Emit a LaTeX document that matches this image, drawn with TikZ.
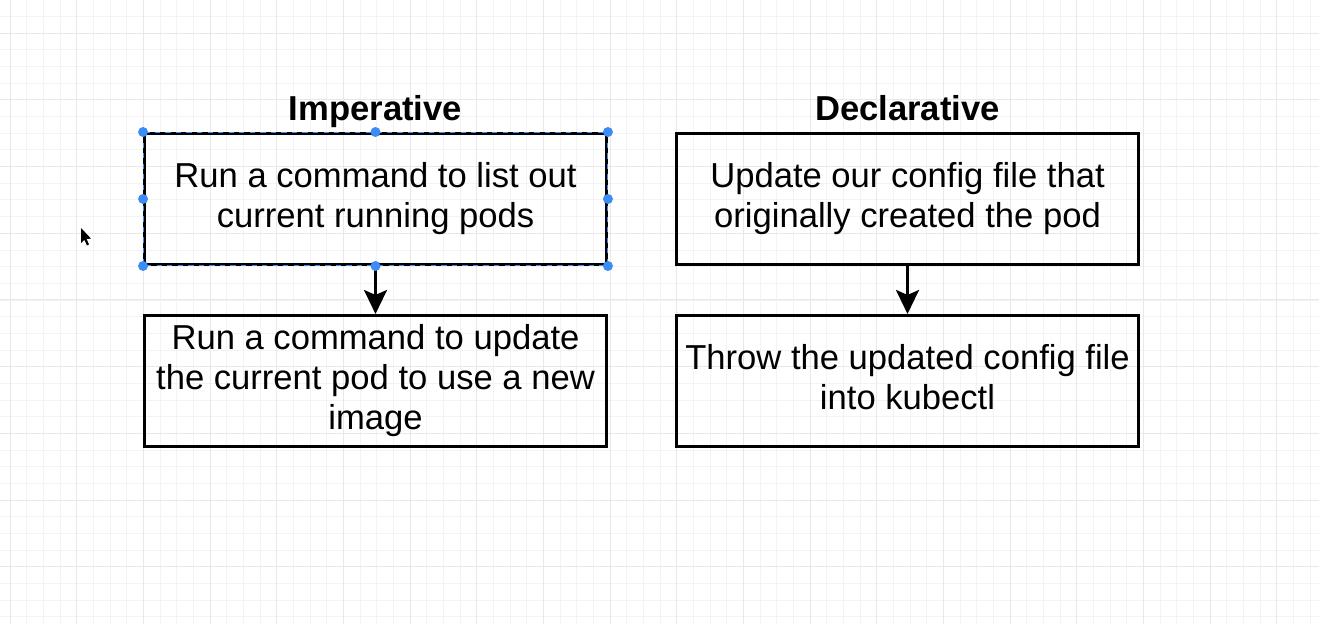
\documentclass[tikz,border=0pt]{standalone}
\usepackage{fontspec}
\setmainfont{Liberation Sans}
\usetikzlibrary{positioning}
\usetikzlibrary{arrows.meta}
\definecolor{minorgrid}{HTML}{F3F3F3}
\definecolor{majorgrid}{HTML}{E8E8E8}
\definecolor{handleblue}{HTML}{3D8BF5}
\newcommand{\boxstrut}{\rule[-0.17cm]{0pt}{0.8cm}}
\tikzset{
	main box/.style={rectangle,draw=black,line width=0.06cm,minimum width=9.24cm,minimum height=2.62cm,
		align=center,inner sep=0pt,font=\fontsize{19.7}{22.76}\selectfont,
		execute at begin node=\boxstrut,execute at end node=\boxstrut},
	title/.style={inner sep=0pt,text height=0.75em,text depth=0.25em,font=\fontsize{19.7}{22.76}\selectfont\bfseries},
	handle/.style={circle,fill=handleblue,inner sep=0pt,minimum size=0.2cm},
	minor line/.style={minorgrid,line width=0.02cm},
	major line/.style={majorgrid,line width=0.02cm}
}

\begin{document}
\begin{tikzpicture}[x=0.02cm,y=-0.02cm,node distance=0.96cm,
		>={Stealth[length=0.48cm,width=0.46cm,inset=0.1cm]}]
	\fill[white] (0,0) rectangle (1319,624);
	\useasboundingbox (0,0) rectangle (1319,624);
	% background grid
	\foreach \k in {0,...,78} {
		\draw[minor line] ({10+16.667*\k},0) -- ({10+16.667*\k},624);
	}
	\foreach \k in {0,...,37} {
		\draw[minor line] (0,{16.667*\k}) -- (1319,{16.667*\k});
	}
	\foreach \k in {0,...,19} {
		\draw[major line] ({10+66.667*\k},0) -- ({10+66.667*\k},624);
	}
	\foreach \k in {0,...,9} {
		\draw[major line] (0,{33.333+66.667*\k}) -- (1319,{33.333+66.667*\k});
	}

	% imperative column
	\node [main box] (list pods) at (375.5,199) {Run a command to list out\\current running pods};
	\node [main box,below=of list pods] (update pod) {Run a command to update\\the current pod to use a new\\image};
	\node [title,above=0.14cm of list pods] (imperative) {Imperative};

	% declarative column
	\node [main box] (update config) at (907.5,199) {Update our config file that\\originally created the pod};
	\node [main box,below=of update config] (throw config) {Throw the updated config file\\into kubectl};
	\node [title,above=0.14cm of update config] (declarative) {Declarative};

	\draw [->,line width=0.06cm] (list pods) -- (update pod);
	\draw [->,line width=0.06cm] (update config) -- (throw config);

	% selection of the first box
	\draw [handleblue,dashed,line width=0.02cm] (list pods.north west) rectangle (list pods.south east);
	\foreach \a/\n in {north west/1,north/2,north east/3,east/4,south east/5,south/6,south west/7,west/8}
		\node [handle] (handle \n) at (list pods.\a) {};

	% mouse pointer
	\fill [black] (81,228) -- (81,243) -- (84.5,239.8) -- (87,245.5) -- (89,244.5) -- (86.6,239) -- (91,238.6) -- cycle;
\end{tikzpicture}
\end{document}
